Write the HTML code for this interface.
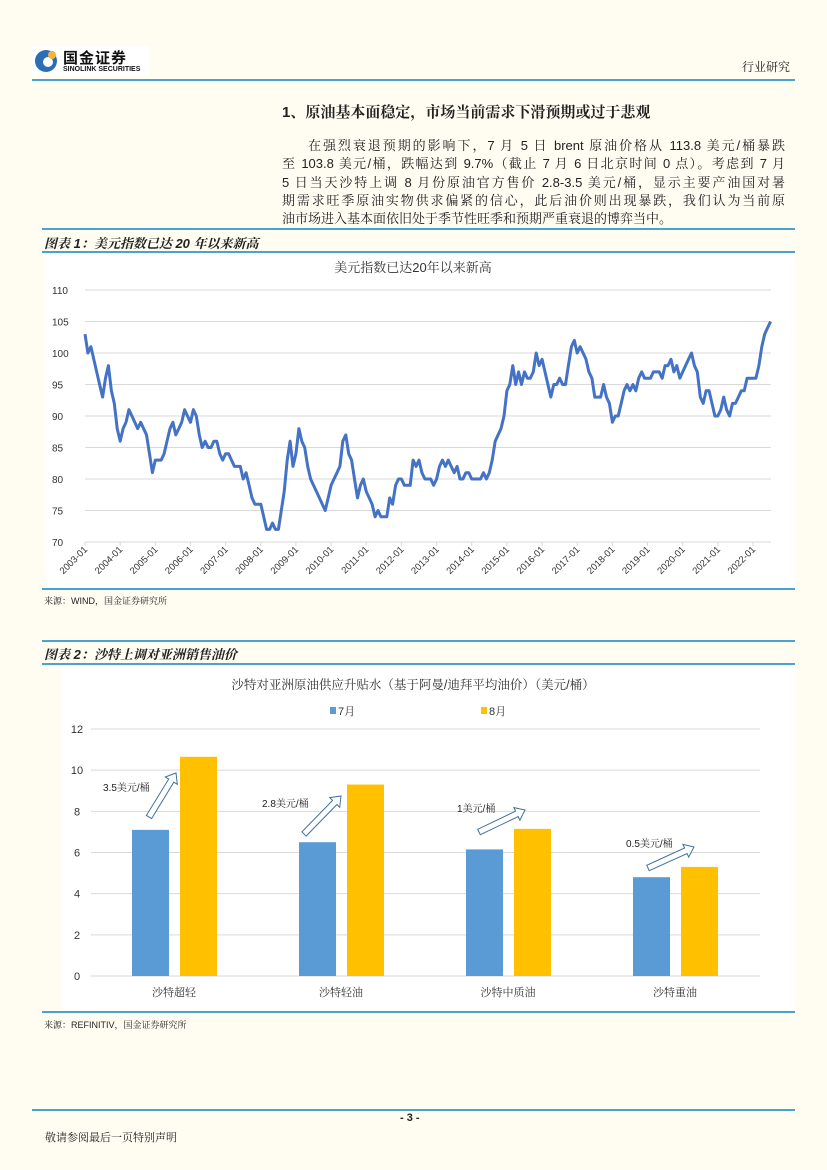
<!DOCTYPE html>
<html><head><meta charset="utf-8">
<style>
body{margin:0;}
#page{position:relative;width:827px;height:1170px;background:#fffcf2;overflow:hidden;font-family:"Liberation Sans","Noto Serif CJK SC","Noto Sans CJK SC",sans-serif;color:#222;}
.abs{position:absolute;}
.hl{position:absolute;height:2px;background:#4aa3cf;}
.para div{height:18.3px;line-height:18.3px;font-size:13px;text-align:justify;text-align-last:justify;white-space:nowrap;}
</style></head>
<body>
<div id="page">
  <div class="abs" style="left:32px;top:46px;width:118px;height:30px;background:#fff;">
    <svg width="118" height="30">
      <circle cx="14" cy="15" r="11" fill="#2d6db5"/>
      <circle cx="16" cy="16" r="5" fill="#fff"/>
      <circle cx="20" cy="9" r="4" fill="#f2b43a"/>
    </svg>
    <div class="abs" style="left:31px;top:1px;font-size:15px;font-weight:bold;font-family:'Noto Sans CJK SC',sans-serif;color:#111;letter-spacing:1px;">国金证券</div>
    <div class="abs" style="left:31px;top:20px;font-size:7px;font-weight:bold;color:#111;">SINOLINK SECURITIES</div>
  </div>
  <div class="abs" style="left:742px;top:58px;font-size:12px;">行业研究</div>
  <div class="hl" style="left:32px;top:79px;width:763px;"></div>

  <div class="abs" style="left:282px;top:101px;font-size:15px;font-weight:bold;">1、原油基本面稳定，市场当前需求下滑预期或过于悲观</div>
  <div class="abs para" style="left:282px;top:137px;width:503px;">
    <div style="padding-left:26px;">在强烈衰退预期的影响下，7 月 5 日 brent 原油价格从 113.8 美元/桶暴跌</div>
    <div>至 103.8 美元/桶，跌幅达到 9.7%（截止 7 月 6 日北京时间 0 点）。考虑到 7 月</div>
    <div>5 日当天沙特上调 8 月份原油官方售价 2.8-3.5 美元/桶，显示主要产油国对暑</div>
    <div>期需求旺季原油实物供求偏紧的信心，此后油价则出现暴跌，我们认为当前原</div>
    <div style="text-align-last:left;">油市场进入基本面依旧处于季节性旺季和预期严重衰退的博弈当中。</div>
  </div>

  <div class="hl" style="left:42px;top:228px;width:753px;"></div>
  <div class="abs" style="left:44px;top:233px;font-size:13px;font-weight:bold;font-style:italic;">图表 1：美元指数已达 20 年以来新高</div>
  <div class="hl" style="left:42px;top:251px;width:753px;"></div>
  <div class="abs" style="left:45px;top:254px;width:750px;height:334px;background:#fff;"></div>
  <svg class="abs" id="c1" style="left:0;top:0;" width="827" height="600"></svg>
  <div class="hl" style="left:42px;top:588px;width:753px;"></div>
  <div class="abs" style="left:44px;top:594px;font-size:9px;">来源：WIND，国金证券研究所</div>

  <div class="hl" style="left:42px;top:640px;width:753px;"></div>
  <div class="abs" style="left:44px;top:644px;font-size:13px;font-weight:bold;font-style:italic;">图表 2：沙特上调对亚洲销售油价</div>
  <div class="hl" style="left:42px;top:663px;width:753px;"></div>
  <div class="abs" style="left:62px;top:666px;width:733px;height:344px;background:#fff;"></div>
  <svg class="abs" id="c2" style="left:0;top:0;" width="827" height="1020"></svg>
  <div class="hl" style="left:42px;top:1011px;width:753px;"></div>
  <div class="abs" style="left:44px;top:1018px;font-size:9px;">来源：REFINITIV，国金证券研究所</div>

  <div class="hl" style="left:32px;top:1109px;width:763px;"></div>
  <div class="abs" style="left:400px;top:1112px;font-size:11px;font-weight:bold;">- 3 -</div>
  <div class="abs" style="left:45px;top:1129px;font-size:11px;">敬请参阅最后一页特别声明</div>
</div>

<script>
const NS='http://www.w3.org/2000/svg';
function mk(svg,tag,attrs,text){const e=document.createElementNS(NS,tag);for(const k in attrs)e.setAttribute(k,attrs[k]);if(text!==undefined)e.textContent=text;svg.appendChild(e);return e;}

const c1StartYear=2003;
const c1YTicks=[70,75,80,85,90,95,100,105,110];
const c1XLabels=['2003-01','2004-01','2005-01','2006-01','2007-01','2008-01','2009-01','2010-01','2011-01','2012-01','2013-01','2014-01','2015-01','2016-01','2017-01','2018-01','2019-01','2020-01','2021-01','2022-01'];
const dxy2003=[103,100,101,99,97,95,93,96,98,94,92,88];
const dxy2004=[86,88,89,91,90,89,88,89,88,87,84,81];
const dxy2005=[83,83,83,84,86,88,89,87,88,89,91,90];
const dxy2006=[89,91,90,87,85,86,85,85,86,86,84,83];
const dxy2007=[84,84,83,82,82,82,80,81,79,77,76,76];
const dxy2008=[76,74,72,72,73,72,72,75,78,83,86,82];
const dxy2009=[84,88,86,85,82,80,79,78,77,76,75,77];
const dxy2010=[79,80,81,82,86,87,84,83,80,77,79,80];
const dxy2011=[78,77,76,74,75,74,74,74,77,76,79,80];
const dxy2012=[80,79,79,79,83,82,83,81,80,80,80,79];
const dxy2013=[80,82,83,82,83,82,81,82,80,80,81,81];
const dxy2014=[80,80,80,80,81,80,81,83,86,87,88,90];
const dxy2015=[94,95,98,95,97,95,97,96,96,97,100,98];
const dxy2016=[99,97,95,93,95,95,96,95,95,98,101,102];
const dxy2017=[100,101,100,99,97,96,93,93,93,95,93,92];
const dxy2018=[89,90,90,92,94,95,94,95,94,96,97,96];
const dxy2019=[96,96,97,97,97,96,98,98,99,97,98,96];
const dxy2020=[97,98,99,100,98,97,93,92,94,94,92,90];
const dxy2021=[90,91,93,91,90,92,92,93,94,94,96,96];
const dxy2022=[96,96,98,101,103,104,105];
const dxySeries=[].concat(dxy2003,dxy2004,dxy2005,dxy2006,dxy2007,dxy2008,dxy2009,dxy2010,dxy2011,dxy2012,dxy2013,dxy2014,dxy2015,dxy2016,dxy2017,dxy2018,dxy2019,dxy2020,dxy2021,dxy2022);

(function(){
  const svg=document.getElementById('c1');
  const x0=85,x1=771,yearW=(753-85)/19,yTop=290,yBot=542,vMin=70,vMax=110;
  const xs=m=>x0+m/12*yearW;
  const ys=v=>yBot-(v-vMin)/(vMax-vMin)*(yBot-yTop);
  let t=mk(svg,'text',{x:413,y:272,'text-anchor':'middle','font-size':13,fill:'#333','font-family':'"Liberation Sans","Noto Serif CJK SC",serif'},'美元指数已达20年以来新高');
  
  
  c1YTicks.forEach(v=>{
    const l=mk(svg,'line',{x1:x0,x2:x1,y1:ys(v),y2:ys(v),stroke:'#d9d9d9','stroke-width':1});
    
    
    const tx=mk(svg,'text',{x:52,y:ys(v)+4,'font-size':10,fill:'#333'},v);
    
    
  });
  c1XLabels.forEach((s,i)=>{
    const x=x0+i*yearW;
    const tk=mk(svg,'line',{x1:x,x2:x,y1:yBot,y2:yBot+4,stroke:'#d9d9d9'});
    
    
    const tx=mk(svg,'text',{x:x+3,y:yBot+8,'font-size':9.5,fill:'#333','text-anchor':'end',transform:`rotate(-45 ${x+3} ${yBot+8})`},s);
    
    
  });
  const pts=dxySeries.map((v,i)=>xs(i).toFixed(1)+','+ys(v).toFixed(1)).join(' ');
  const pl=mk(svg,'polyline',{points:pts,fill:'none',stroke:'#4472c4','stroke-width':3,'stroke-linejoin':'round'});
  
  
})();

const c2Categories=['沙特超轻','沙特轻油','沙特中质油','沙特重油'];
const c2July=[7.1,6.5,6.15,4.8];
const c2August=[10.65,9.3,7.15,5.3];
const c2YTicks=[0,2,4,6,8,10,12];
const c2Notes=['3.5美元/桶','2.8美元/桶','1美元/桶','0.5美元/桶'];

(function(){
  const svg=document.getElementById('c2');
  const gx0=91,gx1=760,yTop=729,yBot=976,vMax=12;
  const ys=v=>yBot-v/vMax*(yBot-yTop);
  const cx=i=>174+i*167;
  const ff='"Liberation Sans","Noto Serif CJK SC",serif';
  let t=mk(svg,'text',{x:413,y:689,'text-anchor':'middle','font-size':12.5,fill:'#333','font-family':ff},'沙特对亚洲原油供应升贴水（基于阿曼/迪拜平均油价）（美元/桶）');
  
  
  let r=mk(svg,'rect',{x:330,y:707,width:6,height:7,fill:'#5b9bd5'});
  
  
  t=mk(svg,'text',{x:338,y:715,'font-size':11,fill:'#333'},'7月');
  
  
  r=mk(svg,'rect',{x:481,y:707,width:6,height:7,fill:'#ffc000'});
  
  
  t=mk(svg,'text',{x:489,y:715,'font-size':11,fill:'#333'},'8月');
  
  
  c2YTicks.forEach(v=>{
    const l=mk(svg,'line',{x1:gx0,x2:gx1,y1:ys(v),y2:ys(v),stroke:'#d9d9d9'});
    
    
    const tx=mk(svg,'text',{x:77,y:ys(v)+4,'font-size':11,fill:'#333','text-anchor':'middle'},v);
    
    
  });
  c2Categories.forEach((c,i)=>{
    let b=mk(svg,'rect',{x:cx(i)-42,y:ys(c2July[i]),width:37,height:yBot-ys(c2July[i]),fill:'#5b9bd5'});
    
    
    b=mk(svg,'rect',{x:cx(i)+6,y:ys(c2August[i]),width:37,height:yBot-ys(c2August[i]),fill:'#ffc000'});
    
    
    const tx=mk(svg,'text',{x:cx(i),y:996,'font-size':11,fill:'#333','text-anchor':'middle','font-family':ff},c);
    
    
  });
  const arrows=[[149,817,176,773],[304,834,341,796],[479,832,525,810],[648,868,694,847]];
  const notePos=[[103,791],[262,807],[457,812],[626,847]];
  arrows.forEach((a,i)=>{
    const [x1,y1,x2,y2]=a;const dx=x2-x1,dy=y2-y1,L=Math.hypot(dx,dy),ux=dx/L,uy=dy/L,nx=-uy,ny=ux;
    const w=3,hw=7,hl=9;const bx=x2-ux*hl,by=y2-uy*hl;
    const P=[[x1+nx*w,y1+ny*w],[bx+nx*w,by+ny*w],[bx+nx*hw,by+ny*hw],[x2,y2],[bx-nx*hw,by-ny*hw],[bx-nx*w,by-ny*w],[x1-nx*w,y1-ny*w]];
    const p=mk(svg,'polygon',{points:P.map(q=>q[0].toFixed(1)+','+q[1].toFixed(1)).join(' '),fill:'#fff',stroke:'#41719c','stroke-width':1});
    
    
    const tx=mk(svg,'text',{x:notePos[i][0],y:notePos[i][1],'font-size':10,fill:'#222','font-family':ff},c2Notes[i]);
    
    
  });
})();
</script>
</body></html>
